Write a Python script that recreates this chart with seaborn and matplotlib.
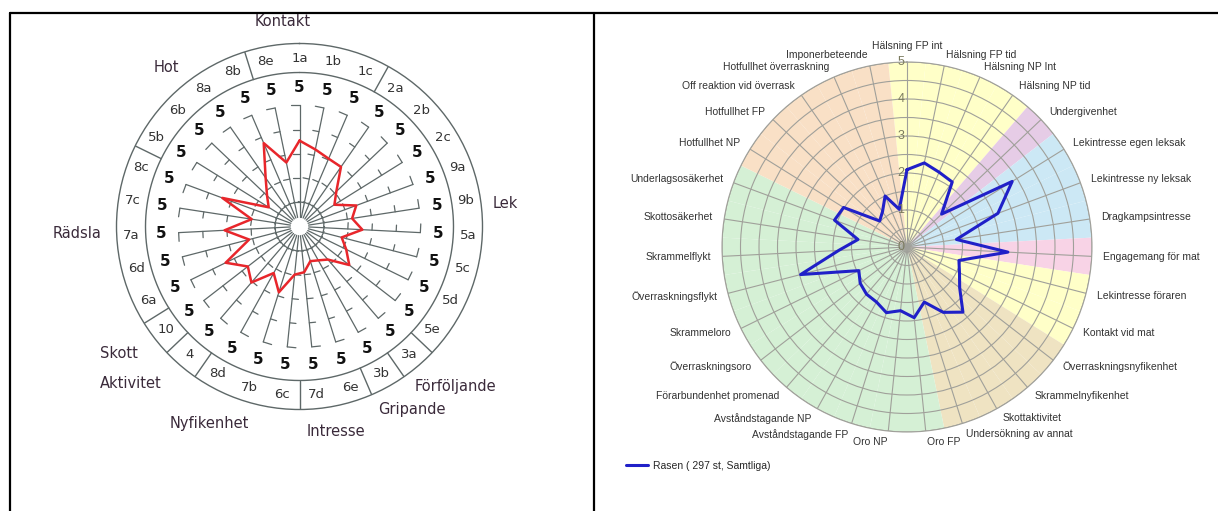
import numpy as np
import pandas as pd
import matplotlib
matplotlib.use("Agg")
import matplotlib.pyplot as plt
import seaborn as sns
from matplotlib.lines import Line2D

# ---------------- data: left chart ----------------
left_items = ["1a", "1b", "1c", "2a", "2b", "2c", "9a", "9b", "5a", "5c", "5d",
              "5e", "3a", "3b", "6e", "7d", "6c", "7b", "8d", "4", "10", "6a",
              "6d", "7a", "7c", "8c", "5b", "6b", "8a", "8b", "8e"]
left_values = [3.55, 3.25, 3.05, 3.0, 2.1, 1.7, 2.5, 2.2, 2.6, 1.8, 2.15,
               2.6, 1.8, 1.6, 1.5, 1.9, 2.0, 2.85, 2.2, 3.05, 2.7, 3.4,
               2.15, 3.1, 2.0, 3.4, 1.5, 1.85, 2.45, 3.75, 2.7]
left_max = [5] * 31
left_groups = ["Kontakt", "Lek", "Förföljande", "Gripande", "Intresse",
               "Nyfikenhet", "Aktivitet", "Skott", "Rädsla", "Hot"]
# separators between items (after item index)
left_separators_after = [2, 11, 12, 13, 15, 18, 19, 20, 25, 29]

# ---------------- data: right chart ----------------
right_items = ["Hälsning FP int", "Hälsning FP tid", "Hälsning NP Int",
               "Hälsning NP tid", "Undergivenhet", "Lekintresse egen leksak",
               "Lekintresse ny leksak", "Dragkampsintresse",
               "Engagemang för mat", "Lekintresse föraren", "Kontakt vid mat",
               "Överraskningsnyfikenhet", "Skrammelnyfikenhet",
               "Skottaktivitet", "Undersökning av annat", "Oro FP", "Oro NP",
               "Avståndstagande FP", "Avståndstagande NP",
               "Förarbundenhet promenad", "Överraskningsoro", "Skrammeloro",
               "Överraskningsflykt", "Skrammelflykt", "Skottosäkerhet",
               "Underlagsosäkerhet", "Hotfullhet NP", "Hotfullhet FP",
               "Off reaktion vid överrask", "Hotfullhet överraskning",
               "Imponerbeteende"]
right_values = [2.09, 2.32, 2.2, 2.14, 1.29, 3.35, 2.62, 1.35, 2.73, 1.45,
                1.58, 1.8, 2.32, 2.02, 1.56, 1.92, 1.73, 1.86, 1.7, 1.68,
                1.6, 1.45, 2.97, 1.85, 1.34, 2.09, 2.02, 1.02, 1.16, 1.5, 1.04]
right_sector = (["yellow"] * 4 + ["purple"] + ["blue"] * 3 + ["pink"] +
                ["yellow"] * 2 + ["tan"] * 4 + ["green"] * 11 + ["orange"] * 5)
right_ticks = [0, 1, 2, 3, 4, 5]
legend_label = "Rasen ( 297 st, Samtliga)"

# ---------------- style ----------------
sns.set_theme(style="white")
plt.rcParams["font.family"] = ["DejaVu Sans"]

W, H = 1218, 511
fig = plt.figure(figsize=(W / 100, H / 100), dpi=100)


def ax_rect(cx, cy, r):
    return [(cx - r) / W, (H - cy - r) / H, 2 * r / W, 2 * r / H]


N = len(left_items)
dth = 2 * np.pi / N
theta = np.arange(N) * dth

# ================= LEFT CHART =================
unit = 121 / 5.0
r_label5 = 139 / unit
r_inner = 154 / unit
r_item = 168.5 / unit
r_outer = 183 / unit
gcol = "#5e6868"

axL = fig.add_axes(ax_rect(299.5, 226.5, 183), projection="polar")
axL.set_theta_zero_location("N")
axL.set_theta_direction(-1)
axL.grid(False)
axL.set_xticks([])
axL.set_yticks([])
axL.spines["polar"].set_color(gcol)
axL.spines["polar"].set_linewidth(1.0)
axL.set_facecolor("white")

for t in theta:
    axL.plot([t, t], [0.38, 5], color=gcol, lw=0.9, zorder=1)
    for rr in [1, 2, 3, 4]:
        L = 0.26
        axL.plot([t, t - np.arctan(L / rr)], [rr, np.hypot(rr, L)],
                 color=gcol, lw=0.9, zorder=1)
    L = 0.36
    axL.plot([t, t - np.arctan(L / 5)], [5, np.hypot(5, L)],
             color=gcol, lw=0.9, zorder=1)

ring = np.linspace(0, 2 * np.pi, 721)
axL.plot(ring, np.full_like(ring, r_inner), color=gcol, lw=1.0)
for k in left_separators_after:
    tb = (k + 0.5) * dth
    axL.plot([tb, tb], [r_inner, r_outer], color=gcol, lw=1.0)

for t, name, mx in zip(theta, left_items, left_max):
    axL.text(t, r_label5, str(mx), ha="center", va="center", fontsize=11,
             fontweight="bold", color="#111111")
    axL.text(t, r_item, name, ha="center", va="center", fontsize=9.5,
             color="#333333")

dfL = pd.DataFrame({"theta": np.append(theta, 2 * np.pi),
                    "value": left_values + left_values[:1]})
sns.lineplot(data=dfL, x="theta", y="value", sort=False, estimator=None,
             color="#e8262b", lw=1.8, ax=axL, zorder=3)
axL.set_xlabel("")
axL.set_ylabel("")
axL.set_ylim(0, r_outer)

# group labels (pixel layout)
group_pos = {"Kontakt": (283, 22), "Hot": (166, 68), "Lek": (505, 203),
             "Rädsla": (77, 233), "Skott": (119, 353),
             "Aktivitet": (131, 384), "Nyfikenhet": (209, 423),
             "Intresse": (336, 431), "Gripande": (412, 409),
             "Förföljande": (455, 386)}
for g in left_groups:
    px, py = group_pos[g]
    fig.text(px / W, 1 - py / H, g, ha="center", va="center", fontsize=10.5,
             color="#3a2a3a")

# ================= RIGHT CHART =================
sector_colors = {"yellow": "#ffffc8", "purple": "#e6cce6", "blue": "#cce8f5",
                 "pink": "#f8d3e6", "tan": "#efe3c2", "green": "#d5f0d5",
                 "orange": "#f9e0c6"}
axR = fig.add_axes(ax_rect(907, 247, 185), projection="polar")
axR.set_theta_zero_location("N")
axR.set_theta_direction(-1)
axR.bar(theta, 5, width=dth, bottom=0,
        color=[sector_colors[s] for s in right_sector], edgecolor="none",
        align="center", zorder=1)
axR.set_xticks(theta)
axR.set_xticklabels([])
axR.set_yticks(np.arange(0.5, 5.01, 0.5))
axR.set_yticklabels([])
axR.set_axisbelow("line")
axR.grid(True, color="#a0a09a", lw=0.8)
axR.spines["polar"].set_color("#a0a09a")
axR.spines["polar"].set_linewidth(0.8)

dfR = pd.DataFrame({"theta": np.append(theta, 2 * np.pi),
                    "value": right_values + right_values[:1]})
sns.lineplot(data=dfR, x="theta", y="value", sort=False, estimator=None,
             color="#2020c8", lw=2.2, ax=axR, zorder=3)
axR.set_xlabel("")
axR.set_ylabel("")
axR.set_ylim(0, 5)

for v in right_ticks:
    axR.annotate(str(v), xy=(0, v), xytext=(-4.5, 0),
                 textcoords="offset points", ha="center", va="center",
                 fontsize=9, color="#7a7a5e", family="Liberation Sans",
                 zorder=4)

r_lab = 5.3
for t, name in zip(theta, right_items):
    s = np.sin(t)
    if abs(s) < 0.02:
        ha = "center"
        va = "bottom" if np.cos(t) > 0 else "top"
    else:
        ha = "left" if s > 0 else "right"
        va = "center"
    axR.text(t, r_lab, name, ha=ha, va=va, fontsize=7.5,
             family="Liberation Sans", color="#333333")

# legend
fig.legend(handles=[Line2D([0], [0], color="#2020c8", lw=2.2)],
           labels=[legend_label], loc="center left",
           bbox_to_anchor=(626 / W, 1 - 466 / H), frameon=False,
           handlelength=2.1, handletextpad=0.5, borderpad=0, borderaxespad=0,
           prop={"family": "Liberation Sans", "size": 7.5})

# panel borders
for xs, ys in [((10 / W, 1), (1 - 13 / H, 1 - 13 / H)),
               ((10 / W, 10 / W), (0, 1 - 13 / H)),
               ((594 / W, 594 / W), (0, 1 - 13 / H))]:
    fig.add_artist(Line2D(xs, ys, transform=fig.transFigure, color="black",
                          lw=1.6))

fig.savefig("out.png", dpi=100)
